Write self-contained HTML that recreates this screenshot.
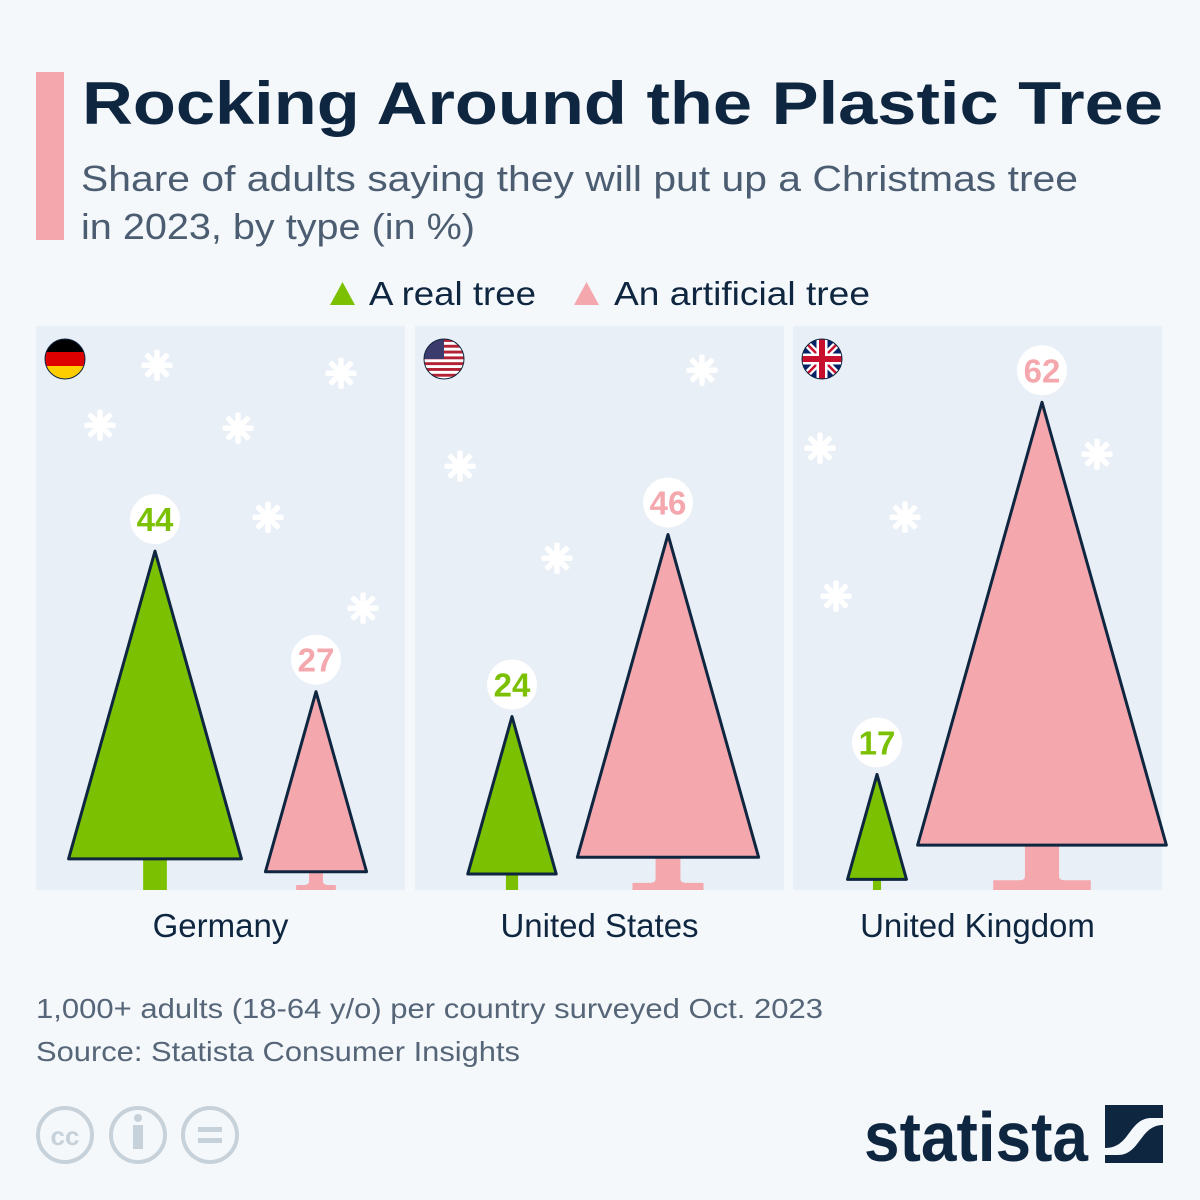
<!DOCTYPE html>
<html><head><meta charset="utf-8"><style>
html,body{margin:0;padding:0;background:#f4f8fb}
svg{display:block;font-family:"Liberation Sans",sans-serif}
</style></head><body>
<svg id="chart" width="1200" height="1200" viewBox="0 0 1200 1200">
<rect width="1200" height="1200" fill="#f4f8fb"/>
<rect x="36" y="72" width="28" height="168" fill="#f4a8ae"/>
<text x="82" y="124" font-size="60" font-weight="bold" fill="#0f2640" textLength="1081" lengthAdjust="spacingAndGlyphs">Rocking Around the Plastic Tree</text>
<text x="81" y="191" font-size="36" fill="#4c5d72" textLength="997" lengthAdjust="spacingAndGlyphs">Share of adults saying they will put up a Christmas tree</text>
<text x="81" y="239" font-size="36" fill="#4c5d72" textLength="394" lengthAdjust="spacingAndGlyphs">in 2023, by type (in %)</text>
<g>
 <g><polygon points="330,305 355,305 342.5,282" fill="#7bc102"/><text x="369" y="305" font-size="33" fill="#0f2640" textLength="167" lengthAdjust="spacingAndGlyphs">A real tree</text></g>
 <g><polygon points="574,305 599,305 586.5,282" fill="#f4a8ae"/><text x="614" y="305" font-size="33" fill="#0f2640" textLength="256" lengthAdjust="spacingAndGlyphs">An artificial tree</text></g>
</g>
<g id="panels"></g>
<text x="36" y="1018" font-size="28" fill="#566678" textLength="787" lengthAdjust="spacingAndGlyphs">1,000+ adults (18-64 y/o) per country surveyed Oct. 2023</text>
<text x="36" y="1061" font-size="28" fill="#566678" textLength="484" lengthAdjust="spacingAndGlyphs">Source: Statista Consumer Insights</text>
<g fill="none" stroke="#c6d1da" stroke-width="4">
 <circle cx="65" cy="1135" r="27"/><circle cx="138" cy="1135" r="27"/><circle cx="210" cy="1135" r="27"/>
 <text x="65" y="1145" font-size="26" font-weight="bold" fill="#c6d1da" stroke="none" text-anchor="middle">cc</text>
 <circle cx="138" cy="1118" r="4" fill="#c6d1da" stroke="none"/><rect x="133" y="1125" width="10" height="24" fill="#c6d1da" stroke="none"/>
 <rect x="198" y="1127" width="24" height="5" fill="#c6d1da" stroke="none"/><rect x="198" y="1138" width="24" height="5" fill="#c6d1da" stroke="none"/>
</g>
<g>
 <text x="864" y="1161" font-size="70" font-weight="bold" fill="#0f2640" textLength="224" lengthAdjust="spacingAndGlyphs">statista</text>
 <rect x="1105" y="1105" width="58" height="58" fill="#0f2640"/>
 <path d="M1105,1148 C1130,1148 1128,1120 1150,1118 L1163,1118 L1163,1125 C1140,1125 1140,1155 1118,1155 L1105,1155 Z" fill="#f4f8fb"/>
</g>
</svg>
<script>
const countries = ["Germany", "United States", "United Kingdom"];
const realValues = [44, 24, 17];
const artificialValues = [27, 46, 62];
const ns = "http://www.w3.org/2000/svg";
const g = document.getElementById("panels");
const panelX = [36, 415, 793];
const panelW = 369, panelTop = 326, baseY = 890;
const treeOffsets = [[119, 280], [97, 253], [84, 249]];
function hScale(v){ return 8.27 * v - 25; }
function mk(tag, attrs, parent){ const e = document.createElementNS(ns, tag); for (const k in attrs) e.setAttribute(k, attrs[k]); (parent || g).appendChild(e); return e; }
const flakes = [[[121,39],[64,99],[202,102],[305,47],[232,191],[327,282]],[[45,140],[287,44],[142,232]],[[27,122],[304,128],[112,191],[43,270]]];
function drawTree(cx, v, color, kind, name){
  const H = hScale(v), top = baseY - H, W = 0.51 * H, tb = baseY - 0.092 * H;
  const grp = mk("g", {});
  
  
  const tw = Math.max(8, 0.07 * H);
  if (kind === "real") {
    mk("rect", {x: cx - tw/2, y: tb - 2, width: tw, height: baseY - tb + 2, fill: color}, grp);
  } else {
    const fw = 0.2 * H, fh = Math.max(5, 0.02 * H);
    mk("path", {d: `M${cx-tw/2},${tb-2} L${cx+tw/2},${tb-2} L${cx+tw/2},${baseY-fh-4} Q${cx+tw/2},${baseY-fh} ${cx+tw/2+6},${baseY-fh} L${cx+fw/2},${baseY-fh} L${cx+fw/2},${baseY} L${cx-fw/2},${baseY} L${cx-fw/2},${baseY-fh} L${cx-tw/2-6},${baseY-fh} Q${cx-tw/2},${baseY-fh} ${cx-tw/2},${baseY-fh-4} Z`, fill: color}, grp);
  }
  mk("polygon", {points: `${cx},${top} ${cx+W/2},${tb} ${cx-W/2},${tb}`, fill: color, stroke: "#0f2640", "stroke-width": 3, "stroke-linejoin": "round"}, grp);
  const ly = top - 32;
  mk("circle", {cx: cx, cy: ly, r: 25, fill: "#ffffff"}, grp);
  const t = mk("text", {x: cx, y: ly + 12, "font-size": 33, "font-weight": "bold", "text-anchor": "middle", fill: kind === "real" ? "#7bc102" : "#f4a8ae"}, grp);
  t.textContent = v;
  
  
}
countries.forEach((c, i) => {
  const px = panelX[i];
  const r = mk("rect", {x: px, y: panelTop, width: panelW, height: baseY - panelTop, fill: "#e9eff6"});
  
  
  flakes[i].forEach(f => {
    const s = mk("text", {x: px + f[0], y: panelTop + f[1] + 14, "font-size": 38, fill: "#ffffff", stroke: "#ffffff", "stroke-width": 3.5, "stroke-linejoin": "round", "text-anchor": "middle", "font-family": "DejaVu Sans"});
    s.textContent = "\u2733";
    
    
  });
  const fx = px + 29, fy = 359;
  const fg = mk("g", {});
  
  
  const cid = "clip" + i;
  const cp = mk("clipPath", {id: cid}, fg); mk("circle", {cx: fx, cy: fy, r: 20}, cp);
  const inner = mk("g", {"clip-path": `url(#${cid})`}, fg);
  if (i === 0) {
    mk("rect", {x: fx-20, y: fy-20, width: 40, height: 14, fill: "#000"}, inner);
    mk("rect", {x: fx-20, y: fy-7, width: 40, height: 14, fill: "#dd0000"}, inner);
    mk("rect", {x: fx-20, y: fy+7, width: 40, height: 14, fill: "#ffce00"}, inner);
  } else if (i === 1) {
    mk("rect", {x: fx-20, y: fy-20, width: 40, height: 40, fill: "#fff"}, inner);
    for (let k = 0; k < 7; k++) mk("rect", {x: fx-20, y: fy-20 + k*5.8, width: 40, height: 2.9, fill: "#b22234"}, inner);
    mk("rect", {x: fx-20, y: fy-20, width: 20, height: 20, fill: "#3c3b6e"}, inner);
  } else {
    mk("rect", {x: fx-20, y: fy-20, width: 40, height: 40, fill: "#012169"}, inner);
    mk("path", {d: `M${fx-20},${fy-20} L${fx+20},${fy+20} M${fx+20},${fy-20} L${fx-20},${fy+20}`, stroke: "#fff", "stroke-width": 7}, inner);
    mk("path", {d: `M${fx-20},${fy-20} L${fx+20},${fy+20} M${fx+20},${fy-20} L${fx-20},${fy+20}`, stroke: "#c8102e", "stroke-width": 2.5}, inner);
    mk("path", {d: `M${fx},${fy-20} L${fx},${fy+20} M${fx-20},${fy} L${fx+20},${fy}`, stroke: "#fff", "stroke-width": 11}, inner);
    mk("path", {d: `M${fx},${fy-20} L${fx},${fy+20} M${fx-20},${fy} L${fx+20},${fy}`, stroke: "#c8102e", "stroke-width": 6}, inner);
  }
  mk("circle", {cx: fx, cy: fy, r: 20, fill: "none", stroke: "#0f2640", "stroke-width": 1}, fg);
  drawTree(px + treeOffsets[i][0], realValues[i], "#7bc102", "real", "tree-real-" + c.toLowerCase().replace(/ /g, '-'));
  drawTree(px + treeOffsets[i][1], artificialValues[i], "#f4a8ae", "artificial", "tree-artificial-" + c.toLowerCase().replace(/ /g, '-'));
  const lbl = mk("text", {x: px + panelW/2, y: 937, "font-size": 33, fill: "#0f2640", "text-anchor": "middle"});
  lbl.textContent = c;
  
  
});
</script>
</body></html>
